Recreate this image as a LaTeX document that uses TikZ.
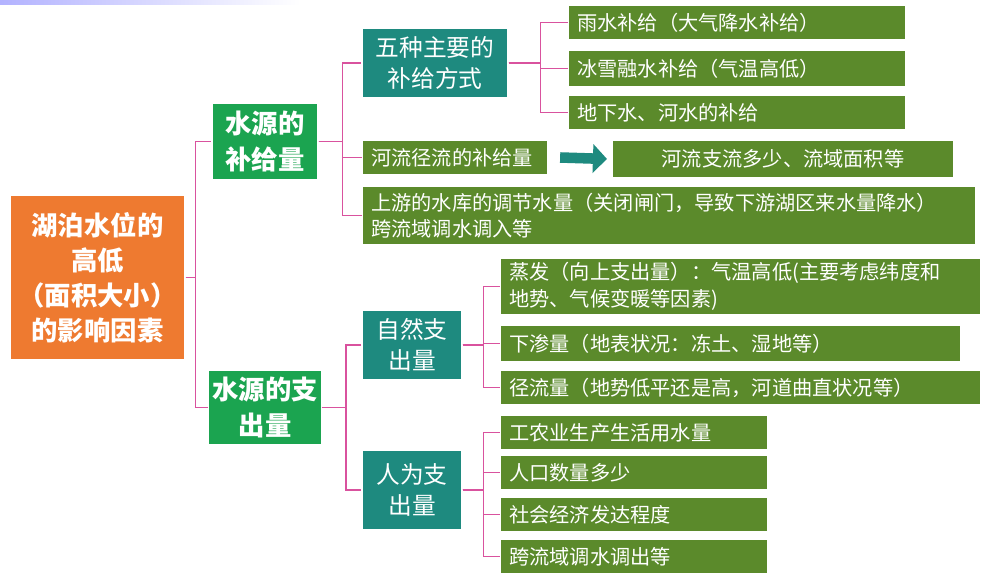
\documentclass[tikz,border=0pt]{standalone}
\usepackage{fontspec}
\setmainfont{Noto Sans CJK SC}
\usetikzlibrary{arrows.meta}
\definecolor{rootc}{HTML}{EE7A30}
\definecolor{greenc}{HTML}{1BA450}
\definecolor{tealc}{HTML}{1E8A7F}
\definecolor{olivec}{HTML}{5B8A2B}
\definecolor{linkc}{HTML}{D9529E}
\tikzset{
  box/.style={draw=white, line width=0.6pt, text=white, inner sep=2pt},
  rootbox/.style={box, fill=rootc, align=center, font=\fontsize{15}{20}\selectfont\bfseries},
  srcbox/.style={box, fill=greenc, align=center, font=\fontsize{15}{20}\selectfont\bfseries},
  waybox/.style={box, fill=tealc, align=center, font=\fontsize{13.5}{18}\selectfont},
  leafbox/.style={box, fill=olivec, anchor=west, align=left, inner xsep=5pt, font=\fontsize{11.5}{15}\selectfont},
  link/.style={linkc, line width=1pt}
}
\begin{document}
\begin{tikzpicture}
\useasboundingbox (0,0) rectangle (20,-11.56);
\shade[left color=blue!30, right color=white] (0,0) rectangle (6,-0.1);

% root and first level
\node[rootbox, minimum width=3.5cm, minimum height=3.3cm] (root) at (1.95,-5.55) {湖泊水位的\\高低\\（面积大小）\\的影响因素};
\node[srcbox, minimum width=2.12cm, minimum height=1.54cm] (supply) at (5.3,-2.83) {水源的\\补给量};
\node[srcbox, minimum width=2.12cm, minimum height=1.5cm] (spend) at (5.3,-8.15) {水源的支\\出量};

% second level
\node[waybox, minimum width=2.92cm, minimum height=1.4cm] (five) at (8.7,-1.26) {五种主要的\\补给方式};
\node[leafbox, text width=3.35cm, minimum height=0.7cm] (river) at (7.24,-3.15) {河流径流的补给量};
\node[box, fill=olivec, font=\fontsize{11.5}{15}\selectfont, anchor=west, minimum width=6.82cm, minimum height=0.76cm] (riverfac) at (12.24,-3.18) {河流支流多少、流域面积等};
\node[leafbox, text width=11.9cm, minimum height=1.18cm] (upper) at (7.24,-4.31) {上游的水库的调节水量（关闭闸门，导致下游湖区来水量降水）\\跨流域调水调入等};
\node[waybox, minimum width=2cm, minimum height=1.4cm] (nature) at (8.24,-6.9) {自然支\\出量};
\node[waybox, minimum width=2cm, minimum height=1.6cm] (human) at (8.24,-9.8) {人为支\\出量};

% leaves
\node[leafbox, text width=6.38cm, minimum height=0.7cm] (rain) at (11.36,-0.45) {雨水补给（大气降水补给）};
\node[leafbox, text width=6.38cm, minimum height=0.74cm] (snow) at (11.36,-1.37) {冰雪融水补给（气温高低）};
\node[leafbox, text width=6.38cm, minimum height=0.7cm] (ground) at (11.36,-2.25) {地下水、河水的补给};
\node[leafbox, text width=9.24cm, minimum height=1.14cm] (evap) at (10,-5.73) {蒸发（向上支出量）：气温高低(主要考虑纬度和\\地势、气候变暖等因素)};
\node[leafbox, text width=8.84cm, minimum height=0.74cm] (seep) at (10,-6.87) {下渗量（地表状况：冻土、湿地等）};
\node[leafbox, text width=9.24cm, minimum height=0.7cm] (runoff) at (10,-7.75) {径流量（地势低平还是高，河道曲直状况等）};
\node[leafbox, text width=4.98cm, minimum height=0.7cm] (farm) at (10,-8.65) {工农业生产生活用水量};
\node[leafbox, text width=4.98cm, minimum height=0.7cm] (people) at (10,-9.45) {人口数量多少};
\node[leafbox, text width=4.98cm, minimum height=0.7cm] (econ) at (10,-10.29) {社会经济发达程度};
\node[leafbox, text width=4.98cm, minimum height=0.7cm] (transfer) at (10,-11.13) {跨流域调水调出等};

% connectors
\foreach \b in {supply,spend}
  \draw[link] (root.east) -- ++(0.2,0) |- (\b.west);
\foreach \b in {five,river,upper}
  \draw[link] (supply.east) -- ++(0.48,0) |- (\b.west);
\foreach \b in {nature,human}
  \draw[link] (spend.east) -- ++(0.48,0) |- (\b.west);
\foreach \b in {rain,snow,ground}
  \draw[link] (five.east) -- ++(0.64,0) |- (\b.west);
\foreach \b in {evap,seep,runoff}
  \draw[link] (nature.east) -- ++(0.42,0) |- (\b.west);
\foreach \b in {farm,people,econ,transfer}
  \draw[link] (human.east) -- ++(0.42,0) |- (\b.west);
\draw[tealc, line width=6pt, -{Triangle[length=8pt,width=16pt]}] ([xshift=0.24cm]river.east) -- ([xshift=-0.1cm]riverfac.west);
\end{tikzpicture}
\end{document}
